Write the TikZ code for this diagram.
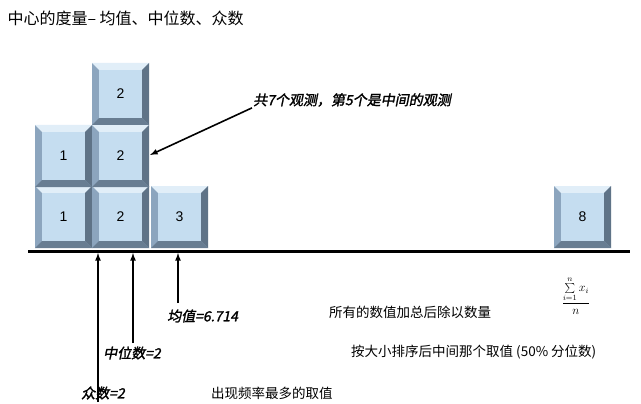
\documentclass[tikz,border=0pt]{standalone}
\usepackage{fontspec}
\setmainfont{Noto Sans CJK SC}
\newfontfamily\slbold{Noto Sans CJK SC}[FakeSlant=0.2, FakeBold=1.6]
\newfontfamily\arial{Liberation Sans}
\usetikzlibrary{positioning}
\definecolor{face}{RGB}{197,221,240}
\definecolor{rim}{RGB}{140,165,190}
\definecolor{rimdark}{RGB}{95,115,135}
\definecolor{rimlight}{RGB}{225,238,248}
\tikzset{
  num/.style={font=\arial\fontsize{14}{16}\selectfont},
  obs/.style={font=\slbold\fontsize{14}{16}\selectfont, inner sep=1pt},
  expl/.style={font=\fontsize{13.5}{15}\selectfont, inner sep=1pt},
  uparrow/.style={-latex, line width=1.6pt}
}
% beveled cube: name, left, top, label
\newcommand{\cube}[4]{%
  \fill[rim] (#2,#3) rectangle ++(57,62);
  \fill[rimlight] (#2,#3) -- ++(57,0) -- ++(-7,7) -- ++(-43,0) -- cycle;
  \fill[rimdark] (#2+57,#3) -- ++(0,62) -- ++(-7,-7) -- ++(0,-48) -- cycle;
  \fill[rimdark!80!rim] (#2,#3+62) -- ++(57,0) -- ++(-7,-7) -- ++(-43,0) -- cycle;
  \fill[face] (#2+7,#3+7) rectangle ++(43,48);
  \node[num] (#1) at (#2+28.5,#3+31) {#4};}
\begin{document}
\begin{tikzpicture}[x=1pt,y=-1pt]
\useasboundingbox (0,0) rectangle (641,404);
\fill[white] (0,0) rectangle (641,404);
% TITLE
\node[anchor=west, font=\fontsize{16}{18}\selectfont] (title) at (4,18) {中心的度量– 均值、中位数、众数};
% BLOCKS
\cube{b1}{35}{186}{1}
\cube{b2}{92}{186}{2}
\cube{b3}{151}{186}{3}
\cube{m1}{35}{125}{1}
\cube{m2}{92}{125}{2}
\cube{t2}{92}{63}{2}
\cube{b8}{554}{186}{8}
% AXIS
\draw[line width=3pt] (28,251) -- (630,251);
\coordinate (mode) at (98,253);
\coordinate (median) at (133,253);
\coordinate (mean) at (178,253);
% ANNOTATION
\node[obs, anchor=west] (seven) at (252,100) {共7个观测，第5个是中间的观测};
\draw[-latex, line width=1.6pt] (seven.south west) -- (150,155);
% LABELS
\node[obs, anchor=west] (meanlbl) at (166,316) {均值=6.714};
\node[obs, anchor=west] (medlbl) at (102,353) {中位数=2};
\node[obs, anchor=west] (modelbl) at (80,393) {众数=2};
\draw[uparrow] (178,303) -- (mean);
\draw[uparrow] (133,343) -- (median);
\draw[uparrow] (98,402) -- (mode);
% EXPLANATIONS
\node[expl, anchor=west] (meanexp) at (328,312) {所有的数值加总后除以数量};
\node[font=\fontsize{12}{14}\selectfont] (formula) at (576,296) {$\displaystyle\frac{\sum\limits_{i=1}^{n} x_i}{n}$};
\node[expl, anchor=west] (medexp) at (350,352) {按大小排序后中间那个取值 (50\% 分位数)};
\node[expl, anchor=west] (modeexp) at (210,393) {出现频率最多的取值};
\end{tikzpicture}
\end{document}
